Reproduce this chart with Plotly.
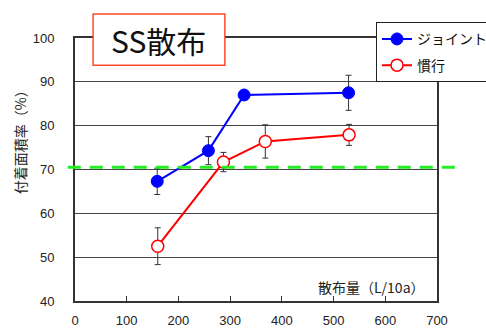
import plotly.graph_objects as go

# Spray volume (L/10a) vs. deposit area ratio (%), with error bars
joint_x = [159, 258, 327, 529]
joint_y = [67.3, 74.3, 87.0, 87.5]
joint_err = [3.0, 3.2, 0.5, 4.0]

conv_x = [160, 287, 368, 530]
conv_y = [52.5, 71.7, 76.4, 77.9]
conv_err = [4.2, 2.2, 3.8, 2.4]

threshold = 70.5

JP = "Noto Sans CJK JP"
NUM = "Liberation Sans Narrow, Liberation Sans, Arial"

fig = go.Figure()

fig.add_trace(go.Scatter(
    x=joint_x, y=joint_y, name="ジョイント", mode="lines+markers",
    line=dict(color="#0000ff", width=2),
    marker=dict(size=12, color="#0000ff", line=dict(color="#0000ff", width=1)),
    error_y=dict(type="data", array=joint_err, color="#333333", thickness=1, width=3),
    legendgroup="a",
))
fig.add_trace(go.Scatter(
    x=conv_x, y=conv_y, name="慣行", mode="lines+markers",
    line=dict(color="#ff0000", width=2),
    marker=dict(size=12, color="white", line=dict(color="#ff0000", width=1.5)),
    error_y=dict(type="data", array=conv_err, color="#333333", thickness=1, width=3),
    legendgroup="b",
))

# Dashed threshold line running past both edges of the plot
fig.add_shape(type="line", xref="paper", yref="y", x0=-0.02, x1=1.058,
              y0=threshold, y1=threshold,
              line=dict(color="#22ee22", width=3, dash="13px,9px"), layer="above")

# Title box
fig.add_shape(type="rect", xref="paper", yref="paper",
              x0=0.05, x1=0.414, y0=0.896, y1=1.091,
              fillcolor="white", line=dict(color="#ff4a2a", width=1.5), layer="above")
fig.add_annotation(text="SS散布", xref="paper", yref="paper", x=0.232, y=0.993,
                   xanchor="center", yanchor="middle",
                   showarrow=False, font=dict(family=JP, size=30, color="#111111"))

# Axis titles
fig.add_annotation(text="付着面積率（%）", xref="paper", yref="paper", x=-0.152, y=0.619,
                   xanchor="center", yanchor="middle",
                   textangle=-90, showarrow=False,
                   font=dict(family=JP, size=14, color="#222222"))
fig.add_annotation(text="散布量（L/10a）", xref="paper", yref="paper", x=0.82, y=0.054,
                   xanchor="center", yanchor="middle",
                   showarrow=False, font=dict(family=JP, size=14, color="#222222"))

fig.update_xaxes(range=[0, 700], dtick=100, ticks="inside", ticklen=5, tickcolor="#333333",
                 showline=True, linecolor="#333333", linewidth=2, mirror=True,
                 showgrid=False, zeroline=False, ticklabelstandoff=6,
                 tickfont=dict(family=NUM, size=13, color="#222222"))
fig.update_yaxes(range=[40, 100], dtick=10, ticks="",
                 showline=True, linecolor="#333333", linewidth=2, mirror=True,
                 showgrid=True, gridcolor="#444444", gridwidth=1, zeroline=False,
                 ticklabelstandoff=16,
                 tickfont=dict(family=NUM, size=13, color="#222222"))

fig.update_layout(
    width=486, height=329,
    margin=dict(l=75, r=49, t=38, b=28, autoexpand=False),
    paper_bgcolor="white", plot_bgcolor="white",
    showlegend=True,
    legend=dict(x=0.8315, y=1.0596, xanchor="left", yanchor="top",
                bgcolor="white", bordercolor="#222222", borderwidth=1,
                font=dict(family=JP, size=14, color="#111111"),
                tracegroupgap=5, itemwidth=30),
)

fig.write_html("out.html")
